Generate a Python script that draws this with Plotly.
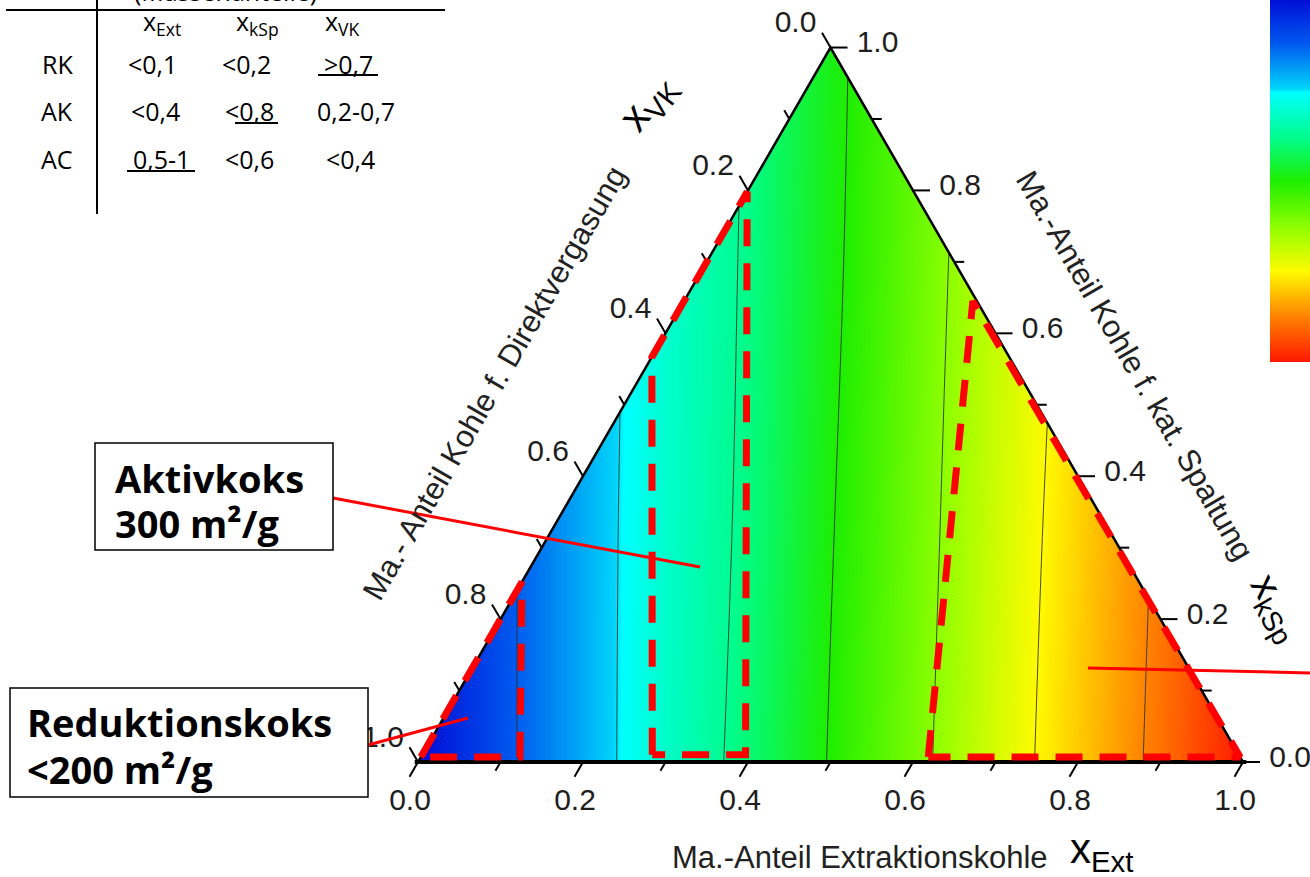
import math
import plotly.graph_objects as go

SQ = math.sqrt(3) / 2

# ---------------- data ----------------
# field values on a grid in triangle coordinates
# (X = x_Ext + 0.5*x_kSp, Y = sqrt(3)/2 * x_kSp)
grid_x = [0.0, 0.1, 0.2, 0.3, 0.4, 0.5, 0.6, 0.7, 0.8, 0.9, 1.0]
grid_y = [0.0, 0.3, 0.6, 0.9]
field_row_0 = [101, 89.5, 79.5, 68.5, 60, 49.5, 40, 29.5, 20, 10.5, 0]
field_row_1 = [101, 89.5, 79.5, 69, 61, 50.5, 41, 30.5, 21, 11.5, 1]
field_row_2 = [101, 89.5, 80, 69.5, 61.5, 51.5, 42, 31.5, 22.5, 13, 2.5]
field_row_3 = [101, 90, 80, 70, 62, 52, 43, 33, 24, 14.5, 4]
contour_start, contour_end, contour_step = 12.5, 87.5, 12.5
field_min, field_max = 0, 100

tick_values = [0.0, 0.1, 0.2, 0.3, 0.4, 0.5, 0.6, 0.7, 0.8, 0.9, 1.0]
major_values = [0.0, 0.2, 0.4, 0.6, 0.8, 1.0]
major_labels = ["0.0", "0.2", "0.4", "0.6", "0.8", "1.0"]

# marked regions as compositions (x_Ext, x_kSp, x_VK)
region_RK = [(0.0, 0.007, 0.993), (0.0, 0.252, 0.748), (0.12, 0.007, 0.873)]
region_AK = [(0.279, 0.010, 0.711), (0.0, 0.567, 0.433), (0.0, 0.798, 0.202), (0.392, 0.010, 0.598)]
region_AC = [(0.615, 0.007, 0.378), (0.35, 0.645, 0.005), (0.993, 0.007, 0.0)]

table_header = ["x<sub>Ext</sub>", "x<sub>kSp</sub>", "x<sub>VK</sub>"]
table_rows = ["RK", "AK", "AC"]
table_cells = [["&lt;0,1", "&lt;0,2", "&gt;0,7"],
               ["&lt;0,4", "&lt;0,8", "0,2-0,7"],
               ["0,5-1", "&lt;0,6", "&lt;0,4"]]

# ---------------- helpers ----------------
W, H = 1310, 877
OX, OY, S = 418.0, 762.0, 825.0   # pixel position of origin & scale of the triangle


def tern(e, k, v):
    s = e + k + v
    e, k = e / s, k / s
    return e + 0.5 * k, SQ * k


def pdata(px, py):
    return (px - OX) / S, (OY - py) / S


def paper(px, py):
    return px / W, 1 - py / H


fig = go.Figure()

# colour field
cscale = [[0.0, 'rgb(255,25,0)'], [0.12, 'rgb(255,125,0)'], [0.25, 'rgb(255,250,0)'],
          [0.37, 'rgb(145,255,0)'], [0.5, 'rgb(30,238,0)'], [0.62, 'rgb(0,252,140)'],
          [0.745, 'rgb(0,255,255)'], [0.755, 'rgb(0,212,250)'], [0.88, 'rgb(0,88,238)'],
          [1.0, 'rgb(0,15,215)']]
fig.add_trace(go.Contour(
    x=grid_x, y=grid_y, z=[field_row_0, field_row_1, field_row_2, field_row_3],
    zmin=field_min, zmax=field_max, colorscale=cscale, showscale=False,
    contours=dict(start=contour_start, end=contour_end, size=contour_step, coloring='heatmap'),
    line=dict(color='rgba(45,45,45,0.85)', width=1),
    hoverinfo='skip'))

# continuous colour bar (carrier trace without visible points)
fig.add_trace(go.Scatter(
    x=[None, None], y=[None, None], mode='markers',
    marker=dict(color=[field_min, field_max], cmin=field_min, cmax=field_max, colorscale=cscale,
                showscale=True, size=1,
                colorbar=dict(x=1270 / W, xanchor='left', y=1, yanchor='top', len=362 / H,
                              lenmode='fraction', thickness=45, xpad=0, ypad=0, outlinewidth=0,
                              borderwidth=0, showticklabels=False, ticks='')),
    hoverinfo='skip', showlegend=False))

# white mask outside triangle
A = tern(0, 0, 1)
B = tern(1, 0, 0)
C = tern(0, 1, 0)
mx = [-0.2, 1.2, 1.2, -0.2, -0.2, A[0], C[0], B[0], A[0], -0.2]
my = [-0.2, -0.2, 1.0, 1.0, -0.2, A[1], C[1], B[1], A[1], -0.2]
fig.add_trace(go.Scatter(x=mx, y=my, fill='toself', fillcolor='white', mode='lines',
                         line=dict(width=0, color='white'), hoverinfo='skip', showlegend=False))

# triangle outline
fig.add_trace(go.Scatter(x=[A[0], C[0], B[0]], y=[A[1], C[1], B[1]], mode='lines',
                         line=dict(color='black', width=2.5), hoverinfo='skip', showlegend=False))
fig.add_trace(go.Scatter(x=[A[0] - 0.004, B[0] + 0.004], y=[A[1], B[1]], mode='lines',
                         line=dict(color='black', width=4), hoverinfo='skip', showlegend=False))

# tick marks
tx, ty = [], []
for t in tick_values:
    L = (17 if any(abs(t - m) < 1e-9 for m in major_values) else 10) / S
    # bottom (x_Ext)
    x0, y0 = tern(t, 0, 1 - t)
    tx += [x0, x0 - 0.5 * L, None]
    ty += [y0, y0 - SQ * L, None]
    # right (x_kSp)
    x0, y0 = tern(1 - t, t, 0)
    tx += [x0, x0 + L, None]
    ty += [y0, y0, None]
    # left (x_VK)
    x0, y0 = tern(0, 1 - t, t)
    tx += [x0, x0 - 0.5 * L, None]
    ty += [y0, y0 + SQ * L, None]
fig.add_trace(go.Scatter(x=tx, y=ty, mode='lines', line=dict(color='black', width=2),
                         hoverinfo='skip', showlegend=False))

# tick labels
lx, ly, lt = [], [], []
for v, txt in zip(major_values, major_labels):
    x0, y0 = tern(v, 0, 1 - v)
    lx.append(x0 - 8 / S); ly.append(y0 - 40 / S); lt.append(txt)
    x0, y0 = tern(1 - v, v, 0)
    lx.append(x0 + 47 / S); ly.append(y0 + 3 / S); lt.append(txt)
    x0, y0 = tern(0, 1 - v, v)
    lx.append(x0 - 35 / S); ly.append(y0 + 23 / S); lt.append(txt)
fig.add_trace(go.Scatter(x=lx, y=ly, mode='text', text=lt, textposition='middle center',
                         textfont=dict(family='Liberation Sans, Arial', size=30, color='#1e1e1e'),
                         hoverinfo='skip', showlegend=False))

# marked regions (red dashed)
for reg in [region_RK, region_AK, region_AC]:
    pts = [tern(*p) for p in reg] + [tern(*reg[0])]
    fig.add_trace(go.Scatter(x=[p[0] for p in pts], y=[p[1] for p in pts], mode='lines',
                             line=dict(color='rgb(255,0,0)', width=7, dash='27px,17px'),
                             hoverinfo='skip', showlegend=False))

shapes = []
annotations = []


def line_px(x0, y0, x1, y1, color, width):
    a = paper(x0, y0); b = paper(x1, y1)
    shapes.append(dict(type='line', xref='paper', yref='paper', x0=a[0], y0=a[1], x1=b[0], y1=b[1],
                       line=dict(color=color, width=width)))


def rect_px(x0, y0, x1, y1):
    a = paper(x0, y0); b = paper(x1, y1)
    shapes.append(dict(type='rect', xref='paper', yref='paper', x0=a[0], y0=a[1], x1=b[0], y1=b[1],
                       line=dict(color='black', width=1.5), fillcolor='white'))


def text_px(txt, px, py, size, family='Open Sans', color='black', angle=0, xanchor='center', bold=False):
    a = paper(px, py)
    annotations.append(dict(text=('<b>%s</b>' % txt) if bold else txt, x=a[0], y=a[1],
                            xref='paper', yref='paper', showarrow=False, textangle=angle,
                            xanchor=xanchor, yanchor='middle',
                            font=dict(family=family, size=size, color=color)))


# table
line_px(6, 10, 445, 10, 'black', 2)
line_px(97, -2, 97, 214, 'black', 2)
text_px('(Massenanteile)', 225, -9, 25)
for txt, cx in zip(table_header, [162, 257, 342]):
    text_px(txt, cx, 22, 25)
row_y = [64, 111, 159]
col_x = [[152, 246, 348], [155, 249, 356], [161, 249, 350]]
for r, (name, cells) in enumerate(zip(table_rows, table_cells)):
    text_px(name, 57, row_y[r], 25)
    for c, txt in enumerate(cells):
        text_px(txt, col_x[r][c], row_y[r], 25)
line_px(318, 75, 378, 75, 'black', 2)
line_px(235, 123, 278, 123, 'black', 2)
line_px(127, 171, 195, 171, 'black', 2)

# leader lines
line_px(333, 498, 700, 567, 'rgb(255,0,0)', 3)
line_px(368, 745, 468, 718, 'rgb(255,0,0)', 3)
line_px(1088, 668, 1312, 673, 'rgb(255,0,0)', 3)

# boxes
rect_px(95, 443, 333, 550)
text_px('Aktivkoks', 113, 478, 38, bold=True, xanchor='left')
text_px('300 m²/g', 113, 523, 38, bold=True, xanchor='left')
rect_px(10, 688, 368, 797)
text_px('Reduktionskoks', 25, 722, 38, bold=True, xanchor='left')
text_px('&lt;200 m²/g', 25, 769, 38, bold=True, xanchor='left')

# axis titles
text_px('Ma.-Anteil Extraktionskohle', 860, 857, 31, family='Liberation Sans, Arial', color='#222')
text_px('x<sub>Ext</sub>', 1101, 851, 42, family='Liberation Sans, Arial')
text_px('Ma.- Anteil Kohle f. Direktvergasung', 494, 383, 31, family='Liberation Sans, Arial',
        color='#222', angle=-60)
text_px('x<sub>VK</sub>', 648, 103, 42, family='Liberation Sans, Arial', angle=-52)
text_px('Ma.-Anteil Kohle f. kat. Spaltung', 1135, 365, 31, family='Liberation Sans, Arial',
        color='#222', angle=60)
text_px('x<sub>kSp</sub>', 1276, 608, 40, family='Liberation Sans, Arial', angle=60)

x_lo, y_top = pdata(0, 0)
x_hi, y_bot = pdata(W, H)
fig.update_layout(
    width=W, height=H,
    margin=dict(l=0, r=0, t=0, b=0, pad=0, autoexpand=False),
    paper_bgcolor='white', plot_bgcolor='white',
    xaxis=dict(range=[x_lo, x_hi], visible=False, fixedrange=True),
    yaxis=dict(range=[y_bot, y_top], visible=False, fixedrange=True),
    shapes=shapes, annotations=annotations, showlegend=False, hovermode=False)

fig.write_html("out.html", config={'displayModeBar': False},
               post_script="document.body.style.margin='0';document.body.style.overflow='hidden';")
